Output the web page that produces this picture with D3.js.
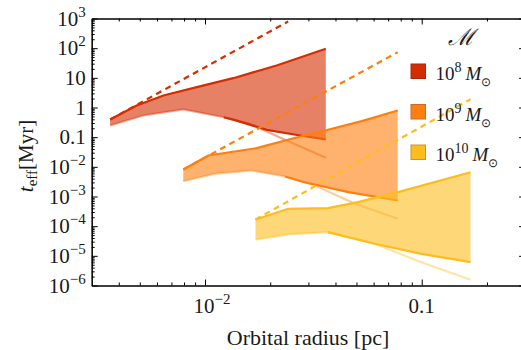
<!DOCTYPE html>
<html>
<head>
<meta charset="utf-8">
<script src="https://cdn.jsdelivr.net/npm/d3@7"></script>
<style>
  body { margin: 0; background: #fff; }
  text { font-family: "Liberation Serif", "Times New Roman", serif; fill: #1a1a1a; }
</style>
</head>
<body>
<svg id="chart" width="521" height="350"></svg>
<script>
// values: [orbital radius (pc), t_eff (Myr)]
const upper8 = [[0.00365, 0.394], [0.00484, 1.17], [0.00643, 2.54], [0.00916, 4.84], [0.0135, 9.73], [0.0214, 26.1], [0.0361, 95]];
const light8 = [[0.00365, 0.248], [0.00519, 0.538], [0.00794, 0.857], [0.0122, 0.471], [0.0161, 0.282], [0.0238, 0.0773], [0.0361, 0.0202]];
const dark8 = [[0.0122, 0.471], [0.0135, 0.39], [0.0193, 0.177], [0.0275, 0.114], [0.0361, 0.0835]];
const dash8 = [[0.00365, 0.394], [0.0242, 794]];

const upper9 = [[0.00794, 0.00815], [0.01035, 0.0242], [0.0173, 0.0426], [0.0251, 0.0881], [0.0358, 0.168], [0.0529, 0.346], [0.0775, 0.793]];
const light9 = [[0.00794, 0.00328], [0.0111, 0.00583], [0.0164, 0.00754], [0.0234, 0.00473], [0.0322, 0.00235], [0.0492, 0.000569], [0.0775, 0.000177]];
const dark9 = [[0.0234, 0.00473], [0.0285, 0.00307], [0.0459, 0.0014], [0.0775, 0.000734]];
const dash9 = [[0.00794, 0.00815], [0.0775, 73]];

const upper10 = [[0.0171, 0.000168], [0.0242, 0.000385], [0.0369, 0.000404], [0.0508, 0.000643], [0.0777, 0.0014], [0.168, 0.0066]];
const light10 = [[0.0171, 3.48e-5], [0.0242, 5.25e-5], [0.0369, 6.28e-5], [0.0607, 2.55e-5], [0.0996, 6.1e-6], [0.168, 1.56e-6]];
const dark10 = [[0.0369, 6.28e-5], [0.0607, 2.55e-5], [0.0996, 1.17e-5], [0.168, 6.1e-6]];
const dash10 = [[0.0171, 0.000168], [0.168, 1.9]];

const massExp = ["8", "9", "10"];
const colors = ["#d62d00", "#fe7f0e", "#fdbd1f"];
const swatchStroke = ["#a8290c", "#c86c2c", "#c9952a"];

const yTicks = [1e3, 1e2, 1e1, 1, 0.1, 1e-2, 1e-3, 1e-4, 1e-5, 1e-6];
const yTickLabels = [["10", "3"], ["10", "2"], ["10", ""], ["1", ""], ["0.1", ""], ["10", "\u22122"], ["10", "\u22123"], ["10", "\u22124"], ["10", "\u22125"], ["10", "\u22126"]];
const xTicks = [0.01, 0.1];
const xTickLabels = [["10", "\u22122"], ["0.1", ""]];

const svg = d3.select("#chart");
const pLeft = 91.7, pRight = 525.1, pTop = 18.5, pBottom = 285.5;

const x = d3.scaleLog().domain([0.003, 0.3]).range([pLeft, pRight]);
const y = d3.scaleLog().domain([1e-6, 1e3]).range([pBottom, pTop]);

// minor ticks
const xMinor = [];
for (let k = -3; k <= -1; k++) for (let m = 2; m <= 9; m++) {
    const v = m * Math.pow(10, k);
    if (v > 0.003 && v < 0.3) xMinor.push(v);
}
const yMinor = [];
for (let k = -6; k <= 2; k++) for (let m = 2; m <= 9; m++) yMinor.push(m * Math.pow(10, k));

svg.append("clipPath").attr("id", "clip")
    .append("rect").attr("x", pLeft).attr("y", pTop)
    .attr("width", pRight - pLeft).attr("height", pBottom - pTop);

const plot = svg.append("g").attr("clip-path", "url(#clip)");
const line = d3.line().x(d => x(d[0])).y(d => y(d[1]));

const groups = [
    [upper8, light8, dark8, dash8],
    [upper9, light9, dark9, dash9],
    [upper10, light10, dark10, dash10]
];

groups.forEach((g, i) => {
    const [upper, light, dark, dash] = g;
    const lower = light.filter(p => p[0] < dark[0][0]).concat(dark);
    const poly = upper.concat(lower.slice().reverse());

    plot.append("path")
        .attr("d", line(poly) + "Z")
        .attr("fill", colors[i])
        .attr("fill-opacity", 0.6)
        .attr("stroke", "none");

    plot.append("path")
        .attr("d", line(light))
        .attr("fill", "none")
        .attr("stroke", colors[i])
        .attr("stroke-opacity", 0.4)
        .attr("stroke-width", 2.2);

    plot.append("path")
        .attr("d", line(dark))
        .attr("fill", "none")
        .attr("stroke", colors[i])
        .attr("stroke-width", 2.2);

    plot.append("path")
        .attr("d", line(upper))
        .attr("fill", "none")
        .attr("stroke", colors[i])
        .attr("stroke-width", 2.2);

    plot.append("path")
        .attr("d", line(dash))
        .attr("fill", "none")
        .attr("stroke", colors[i])
        .attr("stroke-width", 2.2)
        .attr("stroke-dasharray", "6,4.5");
});

// axes: ticks inward on all four sides
function styleAxis(g) {
    g.selectAll("path").attr("stroke", "#000").attr("stroke-width", 1.1);
    g.selectAll("line").attr("stroke", "#000").attr("stroke-width", 1);
    g.selectAll("text").remove();
}
const sides = [
    [d3.axisBottom, x, xTicks, xMinor, `translate(0,${pBottom})`],
    [d3.axisTop, x, xTicks, xMinor, `translate(0,${pTop})`],
    [d3.axisLeft, y, yTicks, yMinor, `translate(${pLeft},0)`],
    [d3.axisRight, y, yTicks, yMinor, `translate(${pRight},0)`]
];
sides.forEach(([ax, sc, major, minor, tr]) => {
    svg.append("g").attr("transform", tr)
        .call(ax(sc).tickValues(minor).tickSizeInner(-3).tickSizeOuter(0).tickFormat(""))
        .call(styleAxis);
    svg.append("g").attr("transform", tr)
        .call(ax(sc).tickValues(major).tickSizeInner(-6).tickSizeOuter(0).tickFormat(""))
        .call(styleAxis);
});

// tick labels
yTicks.forEach((v, i) => {
    const t = svg.append("text")
        .attr("x", pLeft - 6).attr("y", y(v) + 7)
        .attr("text-anchor", "end")
        .style("font-size", "21px");
    const [base, sup] = yTickLabels[i];
    if (sup) {
        t.append("tspan").text(base);
        t.append("tspan").attr("dy", -9).style("font-size", "15px").text(sup);
    } else {
        t.text(base);
    }
});
xTicks.forEach((v, i) => {
    const [base, sup] = xTickLabels[i];
    const t = svg.append("text")
        .attr("x", x(v) + (sup ? 7 : 0)).attr("y", pBottom + 27)
        .attr("text-anchor", "middle")
        .style("font-size", "21px");
    t.append("tspan").text(base);
    if (sup) t.append("tspan").attr("dy", -9).style("font-size", "15px").text(sup);
});

// axis titles
svg.append("text")
    .attr("x", 308).attr("y", 345)
    .attr("text-anchor", "middle")
    .style("font-size", "22px")
    .text("Orbital radius [pc]");

const yl = svg.append("text")
    .attr("transform", "translate(33,156) rotate(-90)")
    .attr("text-anchor", "middle")
    .style("font-size", "21px");
yl.append("tspan").style("font-style", "italic").text("t");
yl.append("tspan").attr("dy", 4).style("font-size", "15px").text("eff");
yl.append("tspan").attr("dy", -4).text("[Myr]");

// legend
svg.append("text")
    .attr("x", 461).attr("y", 45)
    .attr("text-anchor", "middle")
    .style("font-size", "23px")
    .style("font-style", "italic")
    .text("\u2133");

massExp.forEach((e, i) => {
    const base = 80 + i * 40.5;
    svg.append("rect")
        .attr("x", 411).attr("y", base - 16)
        .attr("width", 14.5).attr("height", 14.5)
        .attr("fill", colors[i])
        .attr("stroke", swatchStroke[i])
        .attr("stroke-width", 1);
    const t = svg.append("text")
        .attr("x", 435.5).attr("y", base)
        .style("font-size", "19px");
    t.append("tspan").text("10");
    t.append("tspan").attr("dy", -8).style("font-size", "14px").text(e);
    t.append("tspan").attr("dy", 8).attr("dx", 4).style("font-style", "italic").text("M");
    t.append("tspan").attr("dy", 6).style("font-size", "12px").text("\u2299");
});
</script>
</body>
</html>
